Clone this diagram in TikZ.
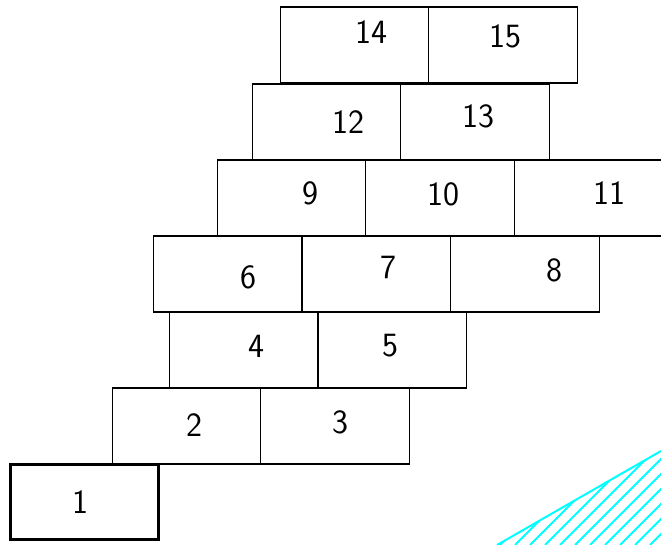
\documentclass[tikz,border=0pt]{standalone}
\usepackage{tikz}
\usetikzlibrary{positioning}

\definecolor{hatchcyan}{RGB}{0,255,255}
\tikzset{
  brick/.style={draw=black, line width=1.1pt, inner sep=0pt,
    minimum width=148.5pt, minimum height=76pt},
  firstbrick/.style={brick, line width=3pt, minimum height=75pt},
  num/.style={font=\sffamily\fontsize{34}{34}\selectfont, inner sep=0pt},
  hatch/.style={hatchcyan, line width=2pt}
}

\begin{document}
\begin{tikzpicture}[x=1pt, y=-1pt]
  \useasboundingbox (0,0) rectangle (661,545);
  % bricks
  \node[firstbrick] (b1) at (84.5,501.5) {};
  \foreach \n/\x/\y in {2/186.5/426, 3/335/426, 4/243.5/350, 5/392.5/350,
      6/227.5/274, 7/376.5/274, 8/525/274, 9/291.5/198, 10/440/198,
      11/588.5/198, 12/326.5/122, 13/475/122, 14/354.5/45, 15/503/45}
    \node[brick] (b\n) at (\x,\y) {};
  % numbers
  \foreach \n/\x/\y in {1/80/502, 2/194/425, 3/340/422, 4/256/346, 5/390/346,
      6/248/277, 7/388/267, 8/554/270, 9/310/193, 10/443/194, 11/609/193,
      12/348/122, 13/478/116, 14/371/32, 15/505/36}
    \node[num] (l\n) at (\x,\y) {\n};
  % hatched corner
  \coordinate (h1) at (497,545);
  \coordinate (h2) at (661,451);
  \coordinate (h3) at (661,545);
  \begin{scope}
    \clip (h1) -- (h2) -- (h3) -- cycle;
    \foreach \a in {470,485,...,680}
      \draw[hatch] (\a,545) -- ++(120,-120);
  \end{scope}
  \draw[hatch] (h1) -- (h2);
\end{tikzpicture}
\end{document}
